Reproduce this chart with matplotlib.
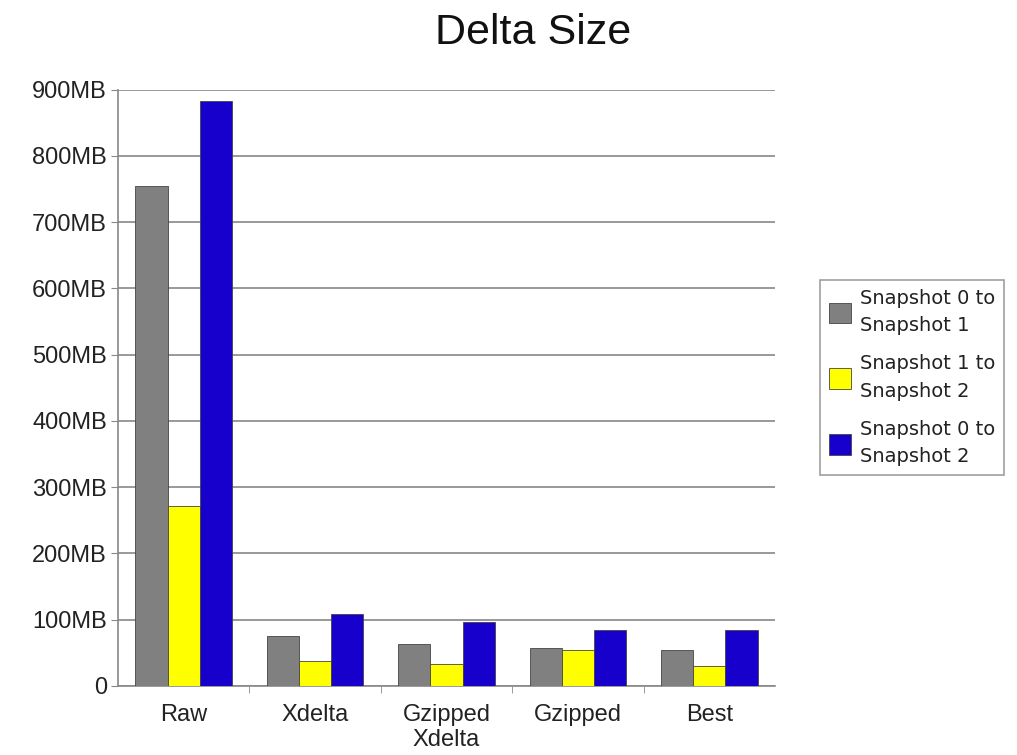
import numpy as np
import matplotlib
matplotlib.use("Agg")
from matplotlib import pyplot as plt
from matplotlib.ticker import FixedLocator

matplotlib.rc("font", family=["Liberation Sans", "DejaVu Sans"])

categories = ["Raw", "Xdelta", "Gzipped\nXdelta", "Gzipped", "Best"]
series_names = [
    "Snapshot 0 to\nSnapshot 1",
    "Snapshot 1 to\nSnapshot 2",
    "Snapshot 0 to\nSnapshot 2",
]
snap01 = [755, 75, 63, 58, 55]
snap12 = [272, 38, 33, 54, 30]
snap02 = [882, 109, 96, 85, 85]
colors = ["#808080", "#ffff00", "#1800cc"]

fig = plt.figure(figsize=(10.17, 7.55), dpi=100)
ax = fig.add_axes([0.116, 0.0914, 0.646, 0.79])

x = np.arange(len(categories))
width = 0.245
for k, vals in enumerate([snap01, snap12, snap02]):
    ax.bar(x + (k - 1) * width, vals, width, color=colors[k],
           edgecolor="#444444", linewidth=0.6, label=series_names[k], zorder=3)

ax.set_xlim(-0.5, len(categories) - 0.5)
ax.set_ylim(0, 900)
yt = np.arange(0, 1000, 100)
ax.set_yticks(yt)
ax.set_yticklabels(["0"] + ["%dMB" % v for v in yt[1:]], fontsize=17,
                   color="#222222")
ax.yaxis.grid(True, color="#888888", linewidth=1.2, zorder=0)

ax.set_xticks(x)
ax.set_xticklabels(categories, fontsize=17, color="#222222", linespacing=1.15)
ax.tick_params(axis="x", length=0, pad=13)
ax.xaxis.set_minor_locator(FixedLocator(np.arange(0.5, len(categories) - 1, 1)))
ax.tick_params(axis="x", which="minor", length=5, color="#888888")
ax.tick_params(axis="y", length=5, color="#888888", pad=3)

for s in ["top", "right"]:
    ax.spines[s].set_visible(False)
for s in ["left", "bottom"]:
    ax.spines[s].set_color("#888888")
    ax.spines[s].set_linewidth(1.2)

fig.text(533 / 1017, 1 - 33 / 755, "Delta Size", fontsize=31,
         ha="center", va="center", color="#111111")

leg = fig.legend(loc="upper left", bbox_to_anchor=(820 / 1017, 1 - 280 / 755),
                 prop={"family": "DejaVu Sans", "size": 14},
                 frameon=True, fancybox=False, handlelength=1.15,
                 handleheight=1.25, handletextpad=0.45, labelspacing=1.0,
                 borderpad=0.45, borderaxespad=0)
for t in leg.get_texts():
    t.set_linespacing(1.55)
    t.set_color("#222222")
leg.get_frame().set_edgecolor("#888888")
leg.get_frame().set_linewidth(1.2)

plt.savefig("out.png", dpi=100)
